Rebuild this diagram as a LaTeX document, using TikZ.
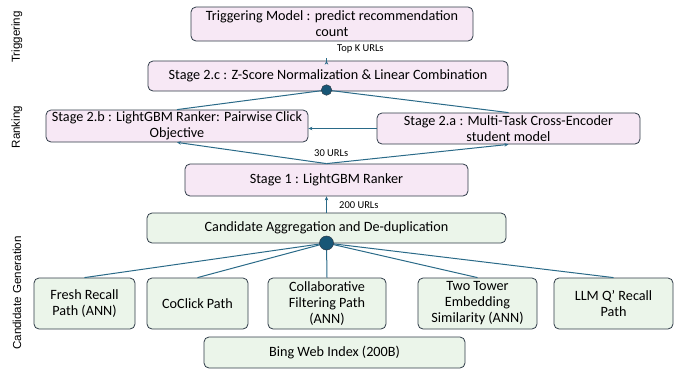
\documentclass[tikz,border=0pt]{standalone}
\usepackage{fontspec}
\setmainfont{Carlito}
\newfontfamily\sidefont{Liberation Sans}
\usetikzlibrary{arrows.meta}
\definecolor{pinkfill}{HTML}{F7E8F5}
\definecolor{greenfill}{HTML}{EBF5EA}
\definecolor{boxline}{HTML}{2F3B48}
\definecolor{conn}{HTML}{2A6A88}
\definecolor{dotfill}{HTML}{185676}
\tikzset{
  pbox/.style={draw=boxline, fill=pinkfill, rounded corners=5pt, line width=0.8pt, align=center, inner sep=0pt, font=\fontsize{14.2}{16}\selectfont},
  gbox/.style={draw=boxline, fill=greenfill, rounded corners=5pt, line width=0.8pt, align=center, inner sep=0pt, font=\fontsize{14.2}{16}\selectfont},
  conline/.style={draw=conn, line width=1pt},
  conarrow/.style={conline, -{Stealth[length=4pt,width=3.5pt]}},
  joint/.style={circle, fill=dotfill, draw=boxline, line width=0.5pt, inner sep=0pt},
  small/.style={font=\fontsize{10.5}{12}\selectfont, inner sep=0pt, anchor=west},
  side/.style={rotate=90, font=\sidefont\fontsize{11.6}{13}\selectfont, inner sep=0pt}
}
\begin{document}
\begin{tikzpicture}[x=1pt, y=-1pt]
\useasboundingbox (0,0) rectangle (678,370);
% side labels
\node[side] (lt) at (17,37) {Triggering};
\node[side] (lr) at (17,127) {Ranking};
\node[side] (lc) at (17,293) {Candidate Generation};
% boxes
\node[pbox, minimum width=282pt, minimum height=34pt] (trig) at (332,24) {Triggering Model : predict recommendation\\count};
\node[pbox, minimum width=360pt, minimum height=30pt] (s2c) at (328,76) {Stage 2.c : Z-Score Normalization \& Linear Combination};
\node[pbox, minimum width=262pt, minimum height=32pt] (s2b) at (177,126) {Stage 2.b : LightGBM Ranker: Pairwise Click\\Objective};
\node[pbox, minimum width=263pt, minimum height=31pt] (s2a) at (508.5,128.5) {Stage 2.a : Multi-Task Cross-Encoder\\student model};
\node[pbox, minimum width=283pt, minimum height=32pt] (s1) at (326.5,180) {Stage 1 : LightGBM Ranker};
\node[gbox, minimum width=359pt, minimum height=30pt] (cand) at (326.5,228) {Candidate Aggregation and De-duplication};
\node[gbox, minimum width=101pt, minimum height=51pt] (fresh) at (84.5,303.5) {Fresh Recall\\Path (ANN)};
\node[gbox, minimum width=101pt, minimum height=51pt] (coclick) at (197.5,303.5) {CoClick Path};
\node[gbox, minimum width=118pt, minimum height=51pt] (collab) at (327,303.5) {Collaborative\\Filtering Path\\(ANN)};
\node[gbox, minimum width=119pt, minimum height=51pt] (tower) at (477.5,303.5) {Two Tower\\Embedding\\Similarity (ANN)};
\node[gbox, minimum width=119pt, minimum height=51pt] (llm) at (613.5,303.5) {LLM Q’ Recall\\Path};
\node[gbox, minimum width=261pt, minimum height=31pt] (bing) at (334.5,352.5) {Bing Web Index (200B)};
% joint positions
\coordinate (ctop) at (326.5,90);
\coordinate (cbot) at (326.5,243);
% connectors top
\draw[conarrow] (s2c.north -| ctop) -- (s2c.north -| ctop |- trig.south);
\node[small] (topk) at (337,49) {Top K URLs};
\draw[conline] (ctop) -- (s2b.north);
\draw[conline] (ctop) -- (s2a.north);
\draw[conarrow] (s2a.west) -- (s2a.west -| s2b.east);
\draw[conarrow] (s1.north) -- (s2b.south);
\draw[conarrow] (s1.north) -- (s2a.south);
\node[small] (u30) at (314,153) {30 URLs};
\draw[conarrow] (cand.north) -- (s1.south);
\node[small] (u200) at (339,205) {200 URLs};
% candidate lines
\draw[conline] (cbot) -- (fresh.north);
\draw[conline] (cbot) -- (coclick.north);
\draw[conline] (cbot) -- (collab.north);
\draw[conline] (cbot) -- (tower.north);
\draw[conline] (cbot) -- (llm.north);
\node[joint, minimum size=14pt] (dbot) at (cbot) {};
\node[joint, minimum size=10.5pt] (dtop) at (ctop) {};
\end{tikzpicture}
\end{document}
